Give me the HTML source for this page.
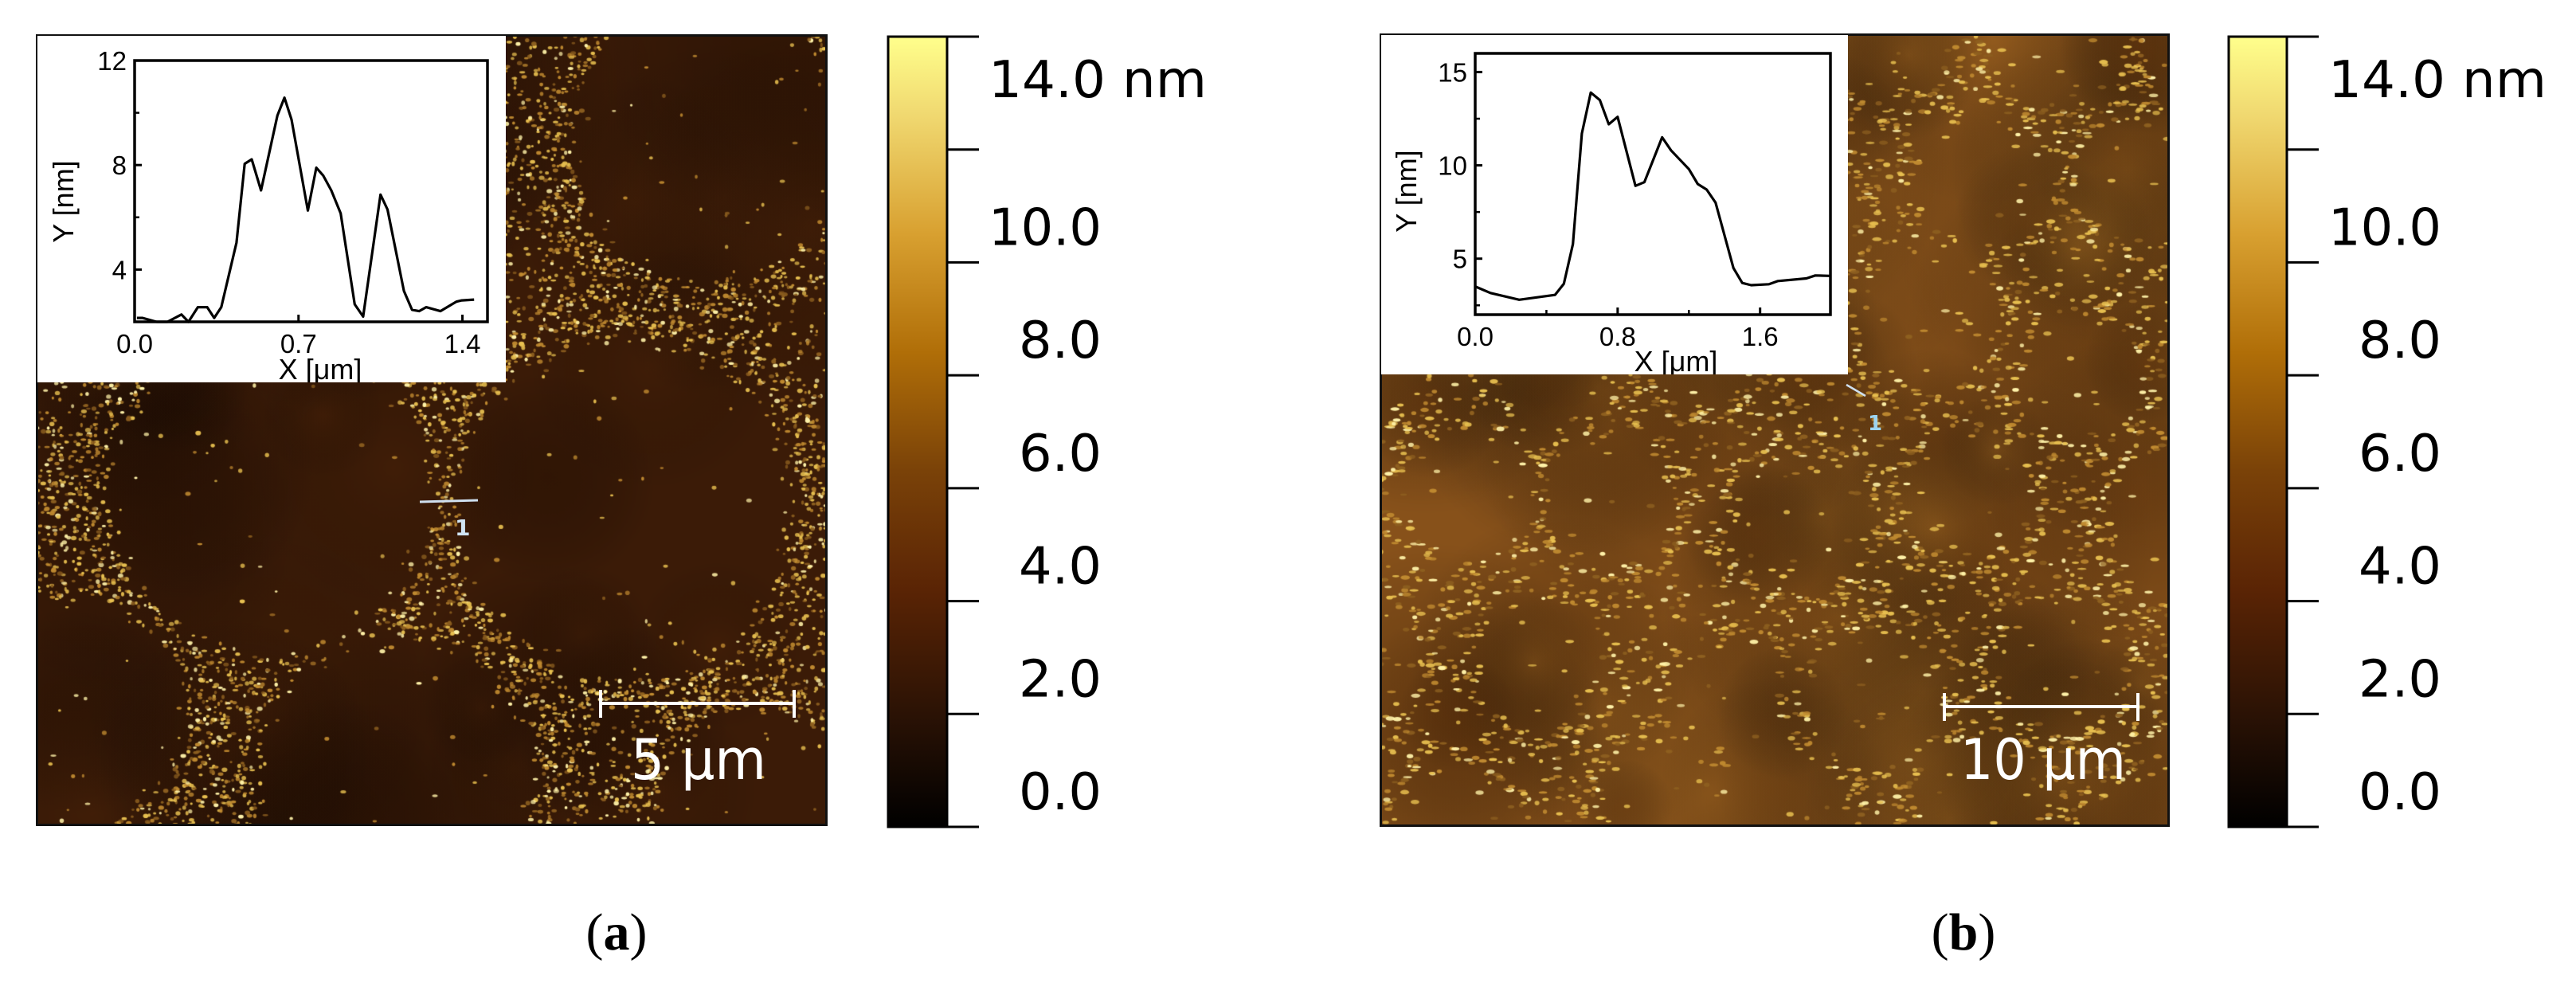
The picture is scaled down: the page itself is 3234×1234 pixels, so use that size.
<!DOCTYPE html>
<html><head><meta charset="utf-8">
<style>
html,body{margin:0;padding:0;background:#fff;}
body{width:3234px;height:1234px;position:relative;overflow:hidden;}
canvas{position:absolute;}
svg{position:absolute;left:0;top:0;}
</style></head>
<body>
<canvas id="afmA" width="990" height="990" style="left:47px;top:45px"></canvas>
<canvas id="afmB" width="988" height="992" style="left:1734px;top:44px"></canvas>
<svg id="ov" width="3234" height="1234">
<defs>
<linearGradient id="cmap" x1="0" y1="1" x2="0" y2="0">
<stop offset="0" stop-color="#000000"/>
<stop offset="0.14" stop-color="#2a1205"/>
<stop offset="0.3" stop-color="#5a2405"/>
<stop offset="0.45" stop-color="#7a4208"/>
<stop offset="0.6" stop-color="#b06e08"/>
<stop offset="0.75" stop-color="#d8a030"/>
<stop offset="0.9" stop-color="#f0d870"/>
<stop offset="1" stop-color="#ffff8c"/>
</linearGradient>
</defs>
<rect x="46.5" y="44.5" width="991" height="991" fill="none" stroke="#111" stroke-width="3"/>
<rect x="1733.5" y="43.5" width="989" height="993" fill="none" stroke="#111" stroke-width="3"/>
<g id="gA"></g>
<g id="gB"></g>
<text x="774" y="1192" text-anchor="middle" font-family="Liberation Serif, serif" font-size="66" fill="#000"><tspan>(</tspan><tspan font-weight="bold">a</tspan><tspan>)</tspan></text>
<text x="2465" y="1192" text-anchor="middle" font-family="Liberation Serif, serif" font-size="66" fill="#000"><tspan>(</tspan><tspan font-weight="bold">b</tspan><tspan>)</tspan></text>
</svg>
<script>
// ---------- profile data ----------
const profileAx = [0.01,0.033,0.094,0.14,0.2,0.23,0.27,0.31,0.34,0.37,0.435,0.47,0.50,0.54,0.61,0.64,0.67,0.74,0.776,0.806,0.84,0.88,0.94,0.976,1.05,1.08,1.15,1.185,1.215,1.245,1.306,1.374,1.397,1.45];
const profileAy = [2.15,2.15,2.0,2.0,2.28,2.0,2.56,2.56,2.15,2.56,5.03,8.05,8.22,7.03,9.9,10.58,9.74,6.26,7.9,7.59,7.03,6.15,2.67,2.2,6.87,6.3,3.18,2.46,2.41,2.56,2.41,2.77,2.82,2.85];
const profileBx = [0,0.086,0.247,0.448,0.498,0.549,0.599,0.649,0.70,0.75,0.80,0.90,0.95,1.05,1.10,1.20,1.25,1.30,1.35,1.45,1.50,1.55,1.65,1.70,1.86,1.91,1.99];
const profileBy = [3.51,3.16,2.8,3.06,3.65,5.78,11.7,13.9,13.5,12.2,12.6,8.9,9.1,11.5,10.8,9.8,9.0,8.7,8.0,4.5,3.7,3.58,3.63,3.8,3.94,4.1,4.08];
const xTicksA = [0.0,0.7,1.4];
const xTickLabelsA = ["0.0","0.7","1.4"];
const yTicksA = [4,8,12];
const yMinorA = [6,10];
const xTicksB = [0.0,0.8,1.6];
const xTickLabelsB = ["0.0","0.8","1.6"];
const xMinorB = [0.4,1.2];
const yTicksB = [5,10,15];
const yMinorB = [2.5,7.5,12.5];
const cbarTicks = [0,2,4,6,8,10,12,14];
const cbarLabels = ["0.0","2.0","4.0","6.0","8.0","10.0","14.0 nm"];
const cbarLabelPos = [0,1,2,3,4,5,6.4];

const NS="http://www.w3.org/2000/svg";
function mk(tag,attrs,parent,txt){const e=document.createElementNS(NS,tag);for(const k in attrs)e.setAttribute(k,attrs[k]);if(txt!==undefined)e.textContent=txt;parent.appendChild(e);return e;}

function inset(g,cfg){
  const wrect=mk('rect',{x:cfg.wx,y:cfg.wy,width:cfg.ww,height:cfg.wh,fill:'#fff'},g);
  
  
  const sx=v=>cfg.fx+(v-cfg.xmin)/(cfg.xmax-cfg.xmin)*cfg.fw;
  const sy=v=>cfg.fy+cfg.fh-(v-cfg.ymin)/(cfg.ymax-cfg.ymin)*cfg.fh;
  const clip=mk('clipPath',{id:cfg.id+'clip'},g);
  mk('rect',{x:cfg.wx,y:cfg.wy,width:cfg.ww,height:cfg.wh},clip);
  const pts=cfg.xs.map((x,i)=>sx(x).toFixed(1)+','+sy(cfg.ys[i]).toFixed(1)).join(' ');
  const pl=mk('polyline',{points:pts,fill:'none',stroke:'#000','stroke-width':3.2,'stroke-linejoin':'round'},g);
  
  
  const fr=mk('rect',{x:cfg.fx,y:cfg.fy,width:cfg.fw,height:cfg.fh,fill:'none',stroke:'#000','stroke-width':3.5},g);
  
  
  cfg.xt.forEach((v,i)=>{
    const x=sx(v);
    mk('line',{x1:x,x2:x,y1:cfg.fy+cfg.fh,y2:cfg.fy+cfg.fh-9,stroke:'#000','stroke-width':3},g);
    const t=mk('text',{x:x,y:cfg.fy+cfg.fh+39,'text-anchor':'middle','font-family':'Liberation Sans, sans-serif','font-size':33},g,cfg.xl[i]);
    
    
  });
  (cfg.xm||[]).forEach(v=>{const x=sx(v);mk('line',{x1:x,x2:x,y1:cfg.fy+cfg.fh,y2:cfg.fy+cfg.fh-6,stroke:'#000','stroke-width':2.5},g);});
  cfg.yt.forEach(v=>{
    const y=sy(v);
    mk('line',{x1:cfg.fx,x2:cfg.fx+9,y1:y,y2:y,stroke:'#000','stroke-width':3},g);
    const t=mk('text',{x:cfg.fx-10,y:y+12,'text-anchor':'end','font-family':'Liberation Sans, sans-serif','font-size':33},g,String(v));
    
    
  });
  (cfg.ym||[]).forEach(v=>{const y=sy(v);mk('line',{x1:cfg.fx,x2:cfg.fx+6,y1:y,y2:y,stroke:'#000','stroke-width':2.5},g);});
  const xt=mk('text',{x:cfg.xtx,y:cfg.xty,'text-anchor':'middle','font-family':'Liberation Sans, sans-serif','font-size':36,'clip-path':'url(#'+cfg.id+'clip)'},g,'X [μm]');
  
  
  const yt=mk('text',{x:0,y:0,'text-anchor':'middle','font-family':'Liberation Sans, sans-serif','font-size':36,transform:'translate('+cfg.ytx+','+cfg.yty+') rotate(-90)'},g,'Y [nm]');
  
  
}

function colorbar(g,x0,x1,y0,y1,labRight,labLeft){
  const r=mk('rect',{x:x0,y:y0,width:x1-x0,height:y1-y0,fill:'url(#cmap)',stroke:'#000','stroke-width':3},g);
  
  
  const sy=v=>y1-(v-cbarTicks[0])/(cbarTicks[cbarTicks.length-1]-cbarTicks[0])*(y1-y0);
  cbarTicks.forEach(v=>{const y=sy(v);const l=mk('line',{x1:x1,x2:x1+40,y1:y,y2:y,stroke:'#000','stroke-width':3},g);
    
    });
  const step=(y1-y0)/7;
  cbarLabels.forEach((s,i)=>{
    const cy=(y1-22)-cbarLabelPos[i]*step;
    let t;
    if(i===cbarLabels.length-1){
      t=mk('text',{x:labLeft,y:122,'font-family':'DejaVu Sans, sans-serif','font-size':64,textLength:274,lengthAdjust:'spacingAndGlyphs'},g,s);
    }else{
      const w=s.length===4?142:104;
      t=mk('text',{x:labRight-w,y:cy,'font-family':'DejaVu Sans, sans-serif','font-size':64,textLength:w,lengthAdjust:'spacingAndGlyphs'},g,s);
    }
    
    
  });
}

const gA=document.getElementById('gA'), gB=document.getElementById('gB');
function scalebar(g,x0,x1,y,label,tx0,tx1){
  const sb=mk('g',{},g);
  
  
  mk('line',{x1:x0,x2:x1,y1:y,y2:y,stroke:'#fff','stroke-width':4},sb);
  mk('line',{x1:x0,x2:x0,y1:y-17,y2:y+18,stroke:'#fff','stroke-width':4},sb);
  mk('line',{x1:x1,x2:x1,y1:y-17,y2:y+18,stroke:'#fff','stroke-width':4},sb);
  const t=mk('text',{x:tx0,y:978,'font-family':'DejaVu Sans, sans-serif','font-size':70,fill:'#fff',textLength:tx1-tx0,lengthAdjust:'spacingAndGlyphs'},sb,label);
  
  
}
scalebar(gA,754,997,883,'5 μm',792,962);
scalebar(gB,2441,2684,887,'10 μm',2461,2669);
mk('line',{x1:527,x2:600,y1:630,y2:628,stroke:'#cfe0f0','stroke-width':3},gA);
const m1=mk('text',{x:571,y:672,'font-family':'DejaVu Sans, sans-serif','font-size':28,'font-weight':'bold',fill:'#cfe4f4'},gA,'1');


mk('line',{x1:2318,x2:2342,y1:483,y2:497,stroke:'#cfe0f0','stroke-width':2.5},gB);
const m2=mk('text',{x:2345,y:540,'font-family':'DejaVu Sans, sans-serif','font-size':26,'font-weight':'bold',fill:'#9cd4f0'},gB,'1');



inset(gA,{id:'ia',wx:47,wy:45,ww:588,wh:435,fx:169,fy:76,fw:443,fh:328,xmin:0,xmax:1.507,ymin:2,ymax:12,
  xs:profileAx,ys:profileAy,xt:xTicksA,xl:xTickLabelsA,yt:yTicksA,ym:yMinorA,xtx:402,xty:476,ytx:92,yty:253});
inset(gB,{id:'ib',wx:1734,wy:44,ww:586,wh:426,fx:1852,fy:67,fw:446,fh:328,xmin:0,xmax:1.995,ymin:2,ymax:16,
  xs:profileBx,ys:profileBy,xt:xTicksB,xl:xTickLabelsB,xm:xMinorB,yt:yTicksB,ym:yMinorB,xtx:2104,xty:466,ytx:1778,yty:240});
colorbar(gA,1115,1189,46,1038,1383,1241);
colorbar(gB,2798,2871,46,1038,3065,2923);

// ---------- AFM textures (decorative) ----------
function rng(seed){return function(){seed=(Math.imul(seed,1664525)+1013904223)>>>0;return seed/4294967296;};}
function texture(id,cells,o){
  const c=document.getElementById(id),ctx=c.getContext('2d'),W=c.width,H=c.height,R=rng(o.seed);
  ctx.fillStyle=o.bg;ctx.fillRect(0,0,W,H);
  for(let i=0;i<o.blobs;i++){
    const x=R()*W,y=R()*H,r=60+R()*200,col=R()<0.5?o.dark:o.light;
    const gr=ctx.createRadialGradient(x,y,0,x,y,r);gr.addColorStop(0,col);gr.addColorStop(1,'rgba(0,0,0,0)');
    ctx.fillStyle=gr;ctx.fillRect(x-r,y-r,2*r,2*r);
  }
  for(let i=0;i<o.n;i++){
    const x=R()*W,y=R()*H;let d1=1e9;
    for(const p of cells){const d=Math.hypot(x-p[0],y-p[1])-p[2];if(d<d1)d1=d;}
    let pr;
    if(d1>0) pr=o.dens*Math.max(0.35,Math.exp(-d1/o.decay));
    else pr=o.dens*Math.exp(-Math.pow(d1/o.w,2));
    pr+=o.bgp;
    if(R()>pr)continue;
    const b=R();
    ctx.fillStyle=b>0.85?'#fff2a8':(b>0.5?'#e8c050':(b>0.2?'#c08a30':'#8e6020'));
    ctx.globalAlpha=0.7+0.3*R();
    ctx.beginPath();ctx.ellipse(x,y,o.sx*(0.6+R()*0.8),o.sy*(0.6+R()*0.7),0,0,Math.PI*2);ctx.fill();
    ctx.globalAlpha=1;
  }
}
const cellsA=[[365,188,215],[850,134,195],[736,593,232],[293,577,222],[40,850,165],[448,930,195],[900,960,135],[1140,610,150],[-140,560,160],[640,-160,120],[1130,-40,120],[200,1180,110],[700,1200,110]];
texture('afmA',cellsA,{seed:7,bg:'#3b1b07',dark:'rgba(30,12,3,0.35)',light:'rgba(80,38,10,0.25)',blobs:40,n:70000,w:18,decay:60,dens:0.26,bgp:0.004,sx:2.6,sy:2.2});
const cellsB=[];
(function(){const R=rng(99);for(let r=-1;r<6;r++)for(let q=-1;q<6;q++){cellsB.push([q*215+(r%2?107:0)+(R()-0.5)*90,r*200+(R()-0.5)*80,88+R()*15]);}})();
texture('afmB',cellsB,{seed:13,bg:'#87511a',dark:'rgba(80,40,8,0.35)',light:'rgba(180,120,40,0.25)',blobs:70,n:70000,w:14,decay:25,dens:0.13,bgp:0.007,sx:4.2,sy:2.2});
</script>
</body></html>
